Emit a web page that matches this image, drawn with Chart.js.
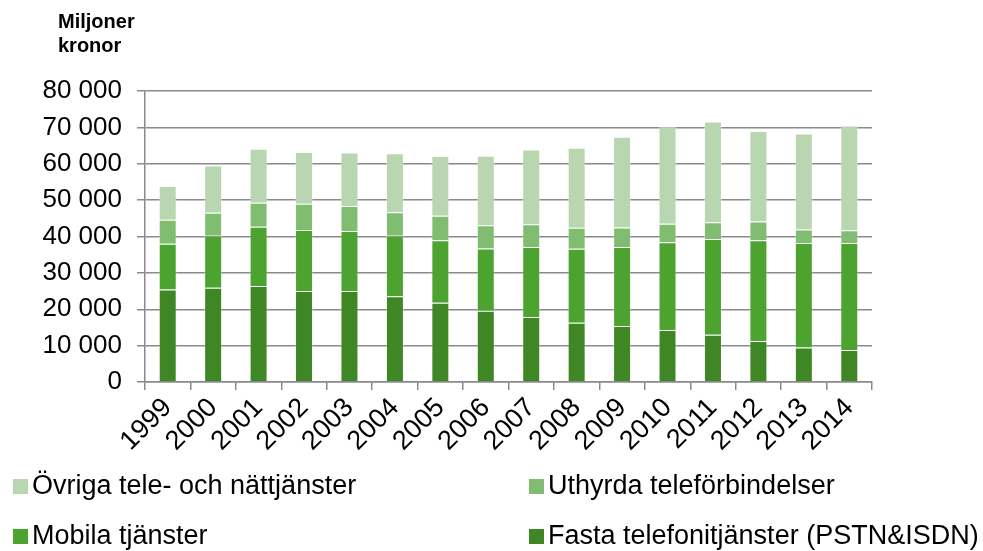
<!DOCTYPE html>
<html>
<head>
<meta charset="utf-8">
<script src="https://cdn.jsdelivr.net/npm/chart.js@4/dist/chart.umd.min.js"></script>
<style>
  html, body { margin: 0; padding: 0; background: #fff; }
  #wrap { position: relative; width: 983px; height: 551px; font-family: "Liberation Sans", Arial, sans-serif; }
  #c { position: absolute; left: 0; top: 0; }
  .title { position: absolute; left: 58px; top: 9px; font-weight: bold; font-size: 20px; line-height: 24px; color: #000; }
  .leg { position: absolute; font-size: 27px; color: #000; white-space: nowrap; line-height: 30px; }
  .leg span.box { display: inline-block; width: 15px; height: 15px; margin-right: 4px; vertical-align: 0px; }
</style>
</head>
<body>
<div id="wrap">
  <canvas id="c" width="983" height="551"></canvas>
  <div class="title">Miljoner<br>kronor</div>
  <div id="legend"></div>
</div>
<script>
const years = ["1999","2000","2001","2002","2003","2004","2005","2006","2007","2008","2009","2010","2011","2012","2013","2014"];
const fasta    = [25400,25900,26400,25000,25000,23600,21800,19600,17900,16300,15400,14300,13000,11300, 9500, 8800];
const mobila   = [12600,14300,16300,16800,16500,16600,17200,17100,19200,20300,21700,24100,26300,27700,28700,29400];
const uthyrda  = [ 6600, 6300, 6600, 7200, 6900, 6500, 6700, 6400, 6300, 5800, 5400, 5100, 4600, 5100, 3700, 3500];
const ovriga   = [ 9300,13000,14800,14200,14700,16200,16400,19100,20500,22000,24900,26800,27700,24900,26400,28800];
const yTicks   = [0,10000,20000,30000,40000,50000,60000,70000,80000];

const labels = {
  fasta: "Fasta telefonitjänster (PSTN&ISDN)",
  mobila: "Mobila tjänster",
  uthyrda: "Uthyrda teleförbindelser",
  ovriga: "Övriga tele- och nättjänster"
};
const colors = { fasta: "#3f8724", mobila: "#4da32f", uthyrda: "#80bd70", ovriga: "#b8d6b0" };

const gridCol = "#8a8a8a";
const yFont = { family: "'Liberation Sans', Arial, sans-serif", size: 26 };
const xFont = { family: "'Liberation Sans', Arial, sans-serif", size: 27 };

function ds(key, data) {
  return {
    label: labels[key], data: data, backgroundColor: colors[key],
    borderColor: "rgba(255,255,255,0.3)", borderWidth: 1,
    categoryPercentage: 1.0, barPercentage: 0.396, stack: "s"
  };
}

new Chart(document.getElementById("c"), {
  type: "bar",
  data: {
    labels: years,
    datasets: [ds("fasta", fasta), ds("mobila", mobila), ds("uthyrda", uthyrda), ds("ovriga", ovriga)]
  },
  options: {
    responsive: false, animation: false,
    layout: { padding: { top: 91, right: 111, left: 0, bottom: 0 } },
    plugins: { legend: { display: false }, tooltip: { enabled: false } },
    scales: {
      x: {
        stacked: true,
        grid: { offset: true, drawOnChartArea: false, drawTicks: true, tickLength: 8, color: gridCol, lineWidth: 1.5 },
        border: { color: gridCol, width: 1.5 },
        ticks: { color: "#000", font: xFont, minRotation: 45, maxRotation: 45, padding: 2, autoSkip: false },
        afterFit: (s) => { s.height = 169; }
      },
      y: {
        stacked: true, min: 0, max: 80000,
        afterBuildTicks: (s) => { s.ticks = yTicks.map(v => ({ value: v })); },
        grid: { color: gridCol, lineWidth: 1.5, tickLength: 8, drawTicks: true },
        border: { color: gridCol, width: 1.5 },
        ticks: {
          color: "#000", font: yFont, padding: 15,
          callback: (v) => String(v).replace(/\B(?=(\d{3})+(?!\d))/g, " ")
        },
        afterFit: (s) => { s.width = 145; }
      }
    }
  }
});

// HTML legend, two columns
const legendItems = [
  { key: "ovriga", x: 13, y: 470 },
  { key: "uthyrda", x: 529, y: 470 },
  { key: "mobila", x: 13, y: 520 },
  { key: "fasta", x: 529, y: 520 }
];
const legEl = document.getElementById("legend");
legendItems.forEach(it => {
  const d = document.createElement("div");
  d.className = "leg";
  d.style.left = it.x + "px";
  d.style.top = it.y + "px";
  const b = document.createElement("span");
  b.className = "box";
  b.style.background = colors[it.key];
  d.appendChild(b);
  d.appendChild(document.createTextNode(labels[it.key]));
  legEl.appendChild(d);
});
</script>
</body>
</html>
